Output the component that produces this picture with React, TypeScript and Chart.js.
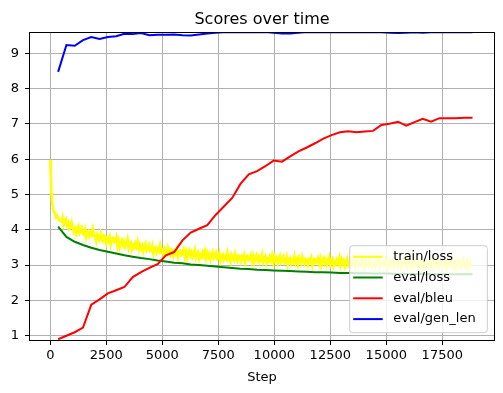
import React, { useEffect, useRef } from 'react';
import { Chart, registerables } from 'chart.js';
Chart.register(...registerables);

const evalSteps = [350, 720, 1090, 1460, 1830, 2200, 2570, 2940, 3310, 3680, 4050, 4420, 4790, 5160, 5530, 5900, 6270, 6640, 7010, 7380, 7750, 8120, 8490, 8860, 9230, 9600, 9970, 10340, 10710, 11080, 11450, 11820, 12190, 12560, 12930, 13300, 13670, 14040, 14410, 14780, 15150, 15520, 15890, 16260, 16630, 17000, 17370, 17740, 18110, 18480, 18850];

const evalLoss = [4.09, 3.80, 3.66, 3.57, 3.49, 3.43, 3.38, 3.33, 3.28, 3.24, 3.20, 3.17, 3.13, 3.10, 3.07, 3.05, 3.02, 3.00, 2.98, 2.96, 2.94, 2.92, 2.90, 2.89, 2.87, 2.86, 2.85, 2.84, 2.83, 2.82, 2.81, 2.80, 2.80, 2.79, 2.78, 2.78, 2.77, 2.77, 2.76, 2.76, 2.76, 2.75, 2.75, 2.75, 2.75, 2.74, 2.74, 2.74, 2.74, 2.74, 2.74];

const evalBleu = [0.90, 1.00, 1.10, 1.23, 1.88, 2.03, 2.20, 2.29, 2.38, 2.66, 2.80, 2.92, 3.03, 3.28, 3.37, 3.70, 3.92, 4.03, 4.13, 4.42, 4.66, 4.90, 5.30, 5.57, 5.66, 5.80, 5.96, 5.93, 6.08, 6.22, 6.33, 6.45, 6.58, 6.68, 6.76, 6.79, 6.76, 6.78, 6.80, 6.97, 7.00, 7.06, 6.95, 7.05, 7.14, 7.06, 7.16, 7.16, 7.16, 7.17, 7.17];

const evalGenLen = [8.47, 9.23, 9.21, 9.37, 9.46, 9.40, 9.46, 9.48, 9.55, 9.54, 9.57, 9.51, 9.52, 9.52, 9.53, 9.51, 9.50, 9.53, 9.56, 9.58, 9.59, 9.60, 9.59, 9.60, 9.59, 9.60, 9.58, 9.56, 9.56, 9.58, 9.60, 9.59, 9.59, 9.60, 9.59, 9.60, 9.59, 9.59, 9.60, 9.59, 9.58, 9.57, 9.58, 9.59, 9.58, 9.59, 9.59, 9.59, 9.59, 9.59, 9.59];

const trainSteps = [0, 25, 50, 75, 100, 150, 200, 250, 300, 400,
  500, 550, 600, 650, 700, 750, 800, 850, 900, 950,
  1000, 1050, 1100, 1150, 1200, 1250, 1300, 1350, 1400, 1450, 1500, 1550, 1600, 1650, 1700, 1750, 1800, 1850, 1900, 1950,
  2000, 2050, 2100, 2150, 2200, 2250, 2300, 2350, 2400, 2450, 2500, 2550, 2600, 2650, 2700, 2750, 2800, 2850, 2900, 2950,
  3000, 3050, 3100, 3150, 3200, 3250, 3300, 3350, 3400, 3450, 3500, 3550, 3600, 3650, 3700, 3750, 3800, 3850, 3900, 3950,
  4000, 4050, 4100, 4150, 4200, 4250, 4300, 4350, 4400, 4450, 4500, 4550, 4600, 4650, 4700, 4750, 4800, 4850, 4900, 4950,
  5000, 5050, 5100, 5150, 5200, 5250, 5300, 5350, 5400, 5450, 5500, 5550, 5600, 5650, 5700, 5750, 5800, 5850, 5900, 5950,
  6000, 6050, 6100, 6150, 6200, 6250, 6300, 6350, 6400, 6450, 6500, 6550, 6600, 6650, 6700, 6750, 6800, 6850, 6900, 6950,
  7000, 7050, 7100, 7150, 7200, 7250, 7300, 7350, 7400, 7450, 7500, 7550, 7600, 7650, 7700, 7750, 7800, 7850, 7900, 7950,
  8000, 8050, 8100, 8150, 8200, 8250, 8300, 8350, 8400, 8450, 8500, 8550, 8600, 8650, 8700, 8750, 8800, 8850, 8900, 8950,
  9000, 9050, 9100, 9150, 9200, 9250, 9300, 9350, 9400, 9450, 9500, 9550, 9600, 9650, 9700, 9750, 9800, 9850, 9900, 9950,
  10000, 10050, 10100, 10150, 10200, 10250, 10300, 10350, 10400, 10450, 10500, 10550, 10600, 10650, 10700, 10750, 10800, 10850, 10900, 10950,
  11000, 11050, 11100, 11150, 11200, 11250, 11300, 11350, 11400, 11450, 11500, 11550, 11600, 11650, 11700, 11750, 11800, 11850, 11900, 11950,
  12000, 12050, 12100, 12150, 12200, 12250, 12300, 12350, 12400, 12450, 12500, 12550, 12600, 12650, 12700, 12750, 12800, 12850, 12900, 12950,
  13000, 13050, 13100, 13150, 13200, 13250, 13300, 13350, 13400, 13450, 13500, 13550, 13600, 13650, 13700, 13750, 13800, 13850, 13900, 13950,
  14000, 14050, 14100, 14150, 14200, 14250, 14300, 14350, 14400, 14450, 14500, 14550, 14600, 14650, 14700, 14750, 14800, 14850, 14900, 14950,
  15000, 15050, 15100, 15150, 15200, 15250, 15300, 15350, 15400, 15450, 15500, 15550, 15600, 15650, 15700, 15750, 15800, 15850, 15900, 15950,
  16000, 16050, 16100, 16150, 16200, 16250, 16300, 16350, 16400, 16450, 16500, 16550, 16600, 16650, 16700, 16750, 16800, 16850, 16900, 16950,
  17000, 17050, 17100, 17150, 17200, 17250, 17300, 17350, 17400, 17450, 17500, 17550, 17600, 17650, 17700, 17750, 17800, 17850, 17900, 17950,
  18000, 18050, 18100, 18150, 18200, 18250, 18300, 18350, 18400, 18450, 18500, 18550, 18600, 18650, 18700, 18750, 18800];

const trainLoss = [5.98, 5.55, 5.05, 4.80, 4.72, 4.52, 4.48, 4.36, 4.40, 4.27,
  4.24, 4.35, 4.14, 4.24, 4.30, 4.13, 4.20, 4.04, 4.10, 4.21,
  4.07, 3.95, 4.03, 3.88, 4.00, 4.09, 3.91, 3.97, 4.06, 3.89, 3.86, 4.00, 3.79, 3.93, 3.97, 3.82, 3.91, 3.85, 4.02, 3.84,
  3.82, 3.68, 3.86, 3.78, 3.71, 3.89, 3.76, 3.69, 3.84, 3.81, 3.62, 3.75, 3.69, 3.80, 3.59, 3.74, 3.77, 3.65, 3.68, 3.79,
  3.55, 3.69, 3.50, 3.63, 3.71, 3.57, 3.66, 3.52, 3.60, 3.73, 3.48, 3.58, 3.64, 3.45, 3.56, 3.50, 3.62, 3.52, 3.66, 3.47,
  3.58, 3.46, 3.54, 3.39, 3.51, 3.60, 3.42, 3.48, 3.57, 3.40, 3.40, 3.54, 3.33, 3.47, 3.51, 3.36, 3.45, 3.39, 3.56, 3.38,
  3.42, 3.28, 3.46, 3.38, 3.31, 3.49, 3.36, 3.29, 3.44, 3.41, 3.26, 3.39, 3.33, 3.44, 3.23, 3.38, 3.41, 3.29, 3.32, 3.43,
  3.25, 3.39, 3.20, 3.33, 3.41, 3.27, 3.36, 3.22, 3.30, 3.43, 3.21, 3.31, 3.37, 3.18, 3.29, 3.23, 3.35, 3.25, 3.39, 3.20,
  3.35, 3.23, 3.31, 3.16, 3.28, 3.37, 3.19, 3.25, 3.34, 3.17, 3.19, 3.33, 3.12, 3.26, 3.30, 3.15, 3.24, 3.18, 3.35, 3.17,
  3.25, 3.11, 3.29, 3.21, 3.14, 3.32, 3.19, 3.12, 3.27, 3.24, 3.11, 3.24, 3.18, 3.29, 3.08, 3.23, 3.26, 3.14, 3.17, 3.28,
  3.12, 3.26, 3.07, 3.20, 3.28, 3.14, 3.23, 3.09, 3.17, 3.30, 3.09, 3.19, 3.25, 3.06, 3.17, 3.11, 3.23, 3.13, 3.27, 3.08,
  3.24, 3.12, 3.20, 3.05, 3.17, 3.26, 3.08, 3.14, 3.23, 3.06, 3.09, 3.23, 3.02, 3.16, 3.20, 3.05, 3.14, 3.08, 3.25, 3.07,
  3.16, 3.02, 3.20, 3.12, 3.05, 3.23, 3.10, 3.03, 3.18, 3.15, 3.02, 3.15, 3.09, 3.20, 2.99, 3.14, 3.17, 3.05, 3.08, 3.19,
  3.04, 3.18, 2.99, 3.12, 3.20, 3.06, 3.15, 3.01, 3.09, 3.22, 3.01, 3.11, 3.17, 2.98, 3.09, 3.03, 3.15, 3.05, 3.19, 3.00,
  3.16, 3.04, 3.12, 2.97, 3.09, 3.18, 3.00, 3.06, 3.15, 2.98, 3.02, 3.16, 2.95, 3.09, 3.13, 2.98, 3.07, 3.01, 3.18, 3.00,
  3.09, 2.95, 3.13, 3.05, 2.98, 3.16, 3.03, 2.96, 3.11, 3.08, 2.97, 3.10, 3.04, 3.15, 2.94, 3.09, 3.12, 3.00, 3.03, 3.14,
  2.98, 3.12, 2.93, 3.06, 3.14, 3.00, 3.09, 2.95, 3.03, 3.16, 2.97, 3.07, 3.13, 2.94, 3.05, 2.99, 3.11, 3.01, 3.15, 2.96,
  3.12, 3.00, 3.08, 2.93, 3.05, 3.14, 2.96, 3.02, 3.11, 2.94, 2.99, 3.13, 2.92, 3.06, 3.10, 2.95, 3.04, 2.98, 3.15, 2.97,
  3.07, 2.93, 3.11, 3.03, 2.96, 3.14, 3.01, 2.94, 3.09, 3.06, 2.95, 3.08, 3.02, 3.13, 2.92, 3.07, 3.10, 2.98, 3.01, 3.12,
  2.97, 3.11, 2.92, 3.05, 3.13, 2.99, 3.08, 2.94, 3.02, 3.15, 2.96, 3.06, 3.12, 2.93, 3.04, 2.98, 3.16];

const xTicks = [0, 2500, 5000, 7500, 10000, 12500, 15000, 17500];
const yTicks = [1, 2, 3, 4, 5, 6, 7, 8, 9];
const xMin = -906;
const xMax = 19808;
const yMin = 0.88;
const yMax = 9.6;

const seriesNames = ['train/loss', 'eval/loss', 'eval/bleu', 'eval/gen_len'];
const seriesColors = ['#ffff00', '#008000', '#ff0000', '#0000ff'];
const seriesWidths = [2.6, 2, 2, 2];
const chartTitle = 'Scores over time';
const xLabel = 'Step';

const FONT = '"DejaVu Sans", sans-serif';

const decorPlugin = {
  id: 'decor',
  afterDatasetsDraw(chart: any) {
    const { ctx, chartArea: a } = chart;
    ctx.save();
    ctx.strokeStyle = '#000';
    ctx.lineWidth = 1;
    ctx.strokeRect(a.left - 0.5, a.top + 0.5, a.right - a.left + 1, a.bottom - a.top);
    ctx.restore();
  },
  afterDraw(chart: any) {
    const { ctx, chartArea: a } = chart;
    ctx.save();
    const cx = (a.left + a.right) / 2;
    ctx.fillStyle = '#000';
    ctx.textAlign = 'center';
    ctx.textBaseline = 'alphabetic';
    ctx.font = '16px ' + FONT;
    ctx.fillText(chartTitle, cx, a.top - 8);
    ctx.font = '13px ' + FONT;
    ctx.fillText(xLabel, cx, a.bottom + 41);

    // legend
    const bw = 137.6, bh = 87;
    const bx = a.right - 6.7 - bw;
    const by = a.bottom - 7.3 - bh;
    const r = 3;
    ctx.beginPath();
    ctx.moveTo(bx + r, by);
    ctx.lineTo(bx + bw - r, by);
    ctx.quadraticCurveTo(bx + bw, by, bx + bw, by + r);
    ctx.lineTo(bx + bw, by + bh - r);
    ctx.quadraticCurveTo(bx + bw, by + bh, bx + bw - r, by + bh);
    ctx.lineTo(bx + r, by + bh);
    ctx.quadraticCurveTo(bx, by + bh, bx, by + bh - r);
    ctx.lineTo(bx, by + r);
    ctx.quadraticCurveTo(bx, by, bx + r, by);
    ctx.closePath();
    ctx.fillStyle = 'rgba(255,255,255,0.8)';
    ctx.fill();
    ctx.strokeStyle = '#cccccc';
    ctx.lineWidth = 1;
    ctx.stroke();

    ctx.textAlign = 'left';
    ctx.textBaseline = 'middle';
    ctx.font = '13px ' + FONT;
    seriesNames.forEach((name, i) => {
      const yy = by + 11 + i * 20.8;
      ctx.strokeStyle = seriesColors[i];
      ctx.lineWidth = 2;
      ctx.beginPath();
      ctx.moveTo(bx + 3.5, yy);
      ctx.lineTo(bx + 33, yy);
      ctx.stroke();
      ctx.fillStyle = '#000';
      ctx.fillText(name, bx + 43.5, yy);
    });
    ctx.restore();
  },
};

export default function App() {
  const ref = useRef<HTMLCanvasElement | null>(null);
  useEffect(() => {
    const canvas = ref.current;
    if (!canvas) return;
    const mk = (xs: number[], ys: number[]) => xs.map((x, i) => ({ x, y: ys[i] }));
    const datas = [mk(trainSteps, trainLoss), mk(evalSteps, evalLoss), mk(evalSteps, evalBleu), mk(evalSteps, evalGenLen)];
    const chart = new Chart(canvas, {
      type: 'line',
      data: {
        datasets: seriesNames.map((name, i) => ({
          label: name,
          data: datas[i],
          borderColor: seriesColors[i],
          backgroundColor: seriesColors[i],
          borderWidth: seriesWidths[i],
          pointRadius: 0,
          tension: 0,
          fill: false,
          order: 4 - i,
        })),
      },
      options: {
        responsive: false,
        animation: false,
        devicePixelRatio: 1,
        parsing: true,
        layout: { padding: { top: 32, right: 9, left: 0, bottom: 0 } },
        plugins: {
          legend: { display: false },
          tooltip: { enabled: false },
          title: { display: false },
        },
        scales: {
          x: {
            type: 'linear',
            min: xMin,
            max: xMax,
            afterBuildTicks: (s: any) => { s.ticks = xTicks.map((v) => ({ value: v })); },
            afterFit: (s: any) => { s.height = 53; },
            grid: { color: '#b0b0b0', lineWidth: 1, drawTicks: true, tickLength: 5, tickColor: '#000', tickWidth: 1 },
            border: { display: false },
            ticks: {
              color: '#000',
              font: { family: FONT, size: 13 },
              padding: 3,
              maxRotation: 0,
              autoSkip: false,
              callback: (v: any) => String(v),
            },
          },
          y: {
            type: 'linear',
            min: yMin,
            max: yMax,
            afterBuildTicks: (s: any) => { s.ticks = yTicks.map((v) => ({ value: v })); },
            afterFit: (s: any) => { s.width = 30; },
            grid: { color: '#b0b0b0', lineWidth: 1, drawTicks: true, tickLength: 5, tickColor: '#000', tickWidth: 1 },
            border: { display: false },
            ticks: {
              color: '#000',
              font: { family: FONT, size: 13 },
              padding: 6,
              autoSkip: false,
              callback: (v: any) => String(v),
            },
          },
        },
      },
      plugins: [decorPlugin],
    } as any);
    return () => chart.destroy();
  }, []);
  return (
    <div style={{ position: 'fixed', left: 0, top: 0, width: 503, height: 393, background: '#fff' }}>
      <canvas ref={ref} width={503} height={393} style={{ width: 503, height: 393, display: 'block' }} />
    </div>
  );
}
